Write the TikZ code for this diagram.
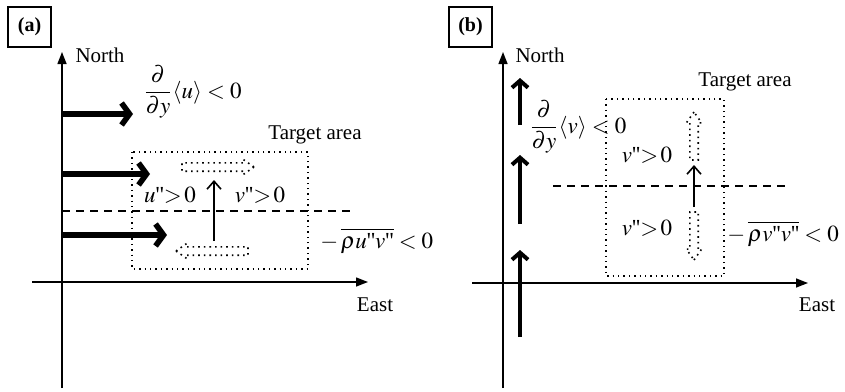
\documentclass[tikz,border=0pt]{standalone}
\usepackage{amsmath}
\usepackage{mathptmx}
\usepackage{fontspec}
\setmainfont{Liberation Serif}
\usetikzlibrary{arrows.meta,shapes.arrows}
\newcommand{\pr}{\text{\textquotesingle\textquotesingle}}
\tikzset{
  axis/.style={-{Triangle[length=6pt,width=4.5pt]},line width=0.7pt},
  flow/.style={-{Straight Barb[length=4pt,width=11pt]},line width=2.8pt},
  vflow/.style={-{Straight Barb[length=3.5pt,width=8pt]},line width=2pt},
  flux/.style={-{Straight Barb[length=4pt,width=7pt]},line width=0.8pt},
  ghost/.style={single arrow,draw,dotted,line width=0.8pt,inner sep=1.7pt,
    single arrow head extend=1.7pt,single arrow tip angle=70},
  zone/.style={draw,dotted,line width=0.7pt},
  midline/.style={line width=0.6pt,dash pattern=on 4pt off 3pt},
  tag/.style={draw,line width=0.8pt,font=\bfseries,minimum width=21.5pt,minimum height=20pt,inner sep=0pt},
  lbl/.style={inner sep=0pt,font=\fontsize{11.5}{13}\selectfont},
  every node/.style={font=\fontsize{10.5}{12}\selectfont}
}

\begin{document}
\begin{tikzpicture}[x=0.5pt,y=-0.5pt]
\useasboundingbox (0,0) rectangle (845,391);
% (a) zonal flow
\node[tag] (taga) at (29.5,27) {(a)};
\coordinate (oa) at (62,388);
\coordinate (na) at (62,52);
\coordinate (wa) at (32,282);
\coordinate (ea) at (368,282);
\draw[axis] (oa) -- (na);
\draw[axis] (wa) -- (ea);
\node[inner sep=0pt] (northa) at (100,55) {North};
\node[inner sep=0pt] (easta) at (375,305) {East};
\coordinate (u1s) at (62,114);  \coordinate (u1e) at (133,114);
\coordinate (u2s) at (62,174);  \coordinate (u2e) at (150,174);
\coordinate (u3s) at (62,235);  \coordinate (u3e) at (167,235);
\draw[flow] (u1s) -- (u1e);
\draw[flow] (u2s) -- (u2e);
\draw[flow] (u3s) -- (u3e);
\node[lbl,anchor=west] (grada) at (143,92) {$\dfrac{\partial}{\partial y}\langle u\rangle<0$};
\node[inner sep=0pt] (targa) at (315,135) {Target area};
\draw[zone] (132,152) rectangle (308,269);
\coordinate (ma) at (62,211);
\coordinate (mb) at (355,211);
\draw[midline] (ma) -- (mb);
\node[ghost,minimum height=36pt,minimum width=7.5pt] (gr) at (215,167) {};
\node[ghost,minimum height=36pt,minimum width=7.5pt,shape border rotate=180] (gl) at (215,251) {};
\coordinate (fa1) at (214,241);
\coordinate (fa2) at (214,180);
\draw[flux] (fa1) -- (fa2);
\node[lbl] (upa) at (170,195) {$u\pr{>}\,0$};
\node[lbl] (vpa) at (260,195) {$v\pr{>}\,0$};
\node[lbl,anchor=west] (rsa) at (320,241) {$-\,\overline{\rho u\pr v\pr}<0$};
% (b) meridional flow
\node[tag] (tagb) at (470.5,27) {(b)};
\coordinate (ob) at (503,388);
\coordinate (nb) at (503,52);
\coordinate (wb) at (472,283);
\coordinate (eb) at (808,283);
\draw[axis] (ob) -- (nb);
\draw[axis] (wb) -- (eb);
\node[inner sep=0pt] (northb) at (540,55) {North};
\node[inner sep=0pt] (eastb) at (817,305) {East};
\coordinate (v1s) at (520,125); \coordinate (v1e) at (520,78);
\coordinate (v2s) at (520,224); \coordinate (v2e) at (520,155);
\coordinate (v3s) at (520,337); \coordinate (v3e) at (520,250);
\draw[vflow] (v1s) -- (v1e);
\draw[vflow] (v2s) -- (v2e);
\draw[vflow] (v3s) -- (v3e);
\node[lbl,anchor=west] (gradb) at (529,127) {$\dfrac{\partial}{\partial y}\langle v\rangle<0$};
\node[inner sep=0pt] (targb) at (745,82) {Target area};
\draw[zone] (606,99) rectangle (724,276);
\coordinate (mc) at (553,186);
\coordinate (md) at (787,186);
\draw[midline] (mc) -- (md);
\node[ghost,minimum height=24pt,minimum width=7pt,shape border rotate=90] (gu) at (694,139) {};
\node[ghost,minimum height=24pt,minimum width=7pt,shape border rotate=270] (gd) at (694,233) {};
\coordinate (fb1) at (694,207);
\coordinate (fb2) at (694,165);
\draw[flux] (fb1) -- (fb2);
\node[lbl] (vpb) at (647,155) {$v\pr{>}\,0$};
\node[lbl] (vpc) at (647,228) {$v\pr{>}\,0$};
\node[lbl,anchor=west] (rsb) at (727,234) {$-\,\overline{\rho v\pr v\pr}<0$};
\end{tikzpicture}
\end{document}
